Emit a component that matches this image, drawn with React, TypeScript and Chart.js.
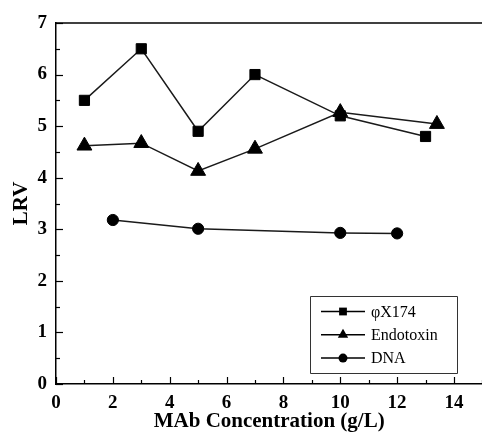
import React, { useEffect, useRef } from 'react';
import { Chart, registerables } from 'chart.js';

Chart.register(...registerables);

// ---- data ----
const seriesLabels = ['φX174', 'Endotoxin', 'DNA'];
const phiX174X = [1, 3, 5, 7, 10, 13];
const phiX174Y = [5.5, 6.5, 4.9, 6.0, 5.2, 4.8];
const endotoxinX = [1, 3, 5, 7, 10, 13.4];
const endotoxinY = [4.62, 4.67, 4.13, 4.56, 5.27, 5.04];
const dnaX = [2, 5, 10, 12];
const dnaY = [3.18, 3.01, 2.93, 2.92];
const xTicks = [0, 2, 4, 6, 8, 10, 12, 14];
const yTicks = [0, 1, 2, 3, 4, 5, 6, 7];
const xTitle = 'MAb Concentration (g/L)';
const yTitle = 'LRV';

const SERIF = "'Liberation Serif', 'Times New Roman', Times, serif";

const toPts = (xs: number[], ys: number[]) => xs.map((x, i) => ({ x, y: ys[i] }));

function drawMarker(ctx: CanvasRenderingContext2D, style: string, cx: number, cy: number, r: number) {
  ctx.beginPath();
  if (style === 'rect') {
    const s = r * Math.SQRT1_2;
    ctx.rect(cx - s, cy - s, 2 * s, 2 * s);
  } else if (style === 'triangle') {
    ctx.moveTo(cx, cy - r);
    ctx.lineTo(cx + r * Math.sin(Math.PI * 2 / 3), cy + r / 2);
    ctx.lineTo(cx - r * Math.sin(Math.PI * 2 / 3), cy + r / 2);
    ctx.closePath();
  } else {
    ctx.arc(cx, cy, r, 0, Math.PI * 2);
  }
  ctx.fill();
}

const framePlugin = {
  id: 'frameTicksLegend',
  afterDraw(chart: any) {
    const { ctx, chartArea, scales } = chart;
    const xs = scales.x;
    const ys = scales.y;
    ctx.save();
    ctx.strokeStyle = '#000';
    ctx.lineWidth = 1.3;
    // top frame line
    ctx.beginPath();
    ctx.moveTo(chartArea.left, chartArea.top);
    ctx.lineTo(chartArea.right, chartArea.top);
    ctx.stroke();
    // inside tick marks
    ctx.lineWidth = 1.2;
    for (let v = 0; v <= 7.001; v += 0.5) {
      const py = Math.round(ys.getPixelForValue(v)) + 0.5;
      const len = Math.abs(v - Math.round(v)) < 1e-6 ? 7 : 4;
      ctx.beginPath();
      ctx.moveTo(chartArea.left, py);
      ctx.lineTo(chartArea.left + len, py);
      ctx.stroke();
    }
    for (let v = 0; v <= 15; v += 1) {
      const px = Math.round(xs.getPixelForValue(v)) + 0.5;
      const len = v % 2 === 0 ? 7 : 4;
      ctx.beginPath();
      ctx.moveTo(px, chartArea.bottom);
      ctx.lineTo(px, chartArea.bottom - len);
      ctx.stroke();
    }
    // legend
    const box = { left: 310.5, top: 296.5, right: 457.5, bottom: 373.5 };
    ctx.lineWidth = 1;
    ctx.strokeStyle = '#333';
    ctx.fillStyle = '#fff';
    ctx.beginPath();
    ctx.rect(box.left, box.top, box.right - box.left, box.bottom - box.top);
    ctx.fill();
    ctx.stroke();
    const radii = [5.5, 6, 4.5];
    chart.data.datasets.forEach((ds: any, i: number) => {
      const cy = 311.5 + i * 23.3;
      ctx.strokeStyle = '#000';
      ctx.lineWidth = 1.5;
      ctx.beginPath();
      ctx.moveTo(321, cy);
      ctx.lineTo(365, cy);
      ctx.stroke();
      ctx.fillStyle = '#000';
      drawMarker(ctx, ds.pointStyle, 343, cy, radii[i]);
      ctx.font = `16px ${SERIF}`;
      ctx.textBaseline = 'middle';
      ctx.textAlign = 'left';
      ctx.fillText(ds.label, 371, cy + 1);
    });
    ctx.restore();
  },
};

export default function App() {
  const ref = useRef<HTMLCanvasElement | null>(null);

  useEffect(() => {
    if (!ref.current) return;
    const common = {
      borderColor: '#1a1a1a',
      backgroundColor: '#000',
      pointBackgroundColor: '#000',
      pointBorderColor: '#000',
      pointBorderWidth: 1,
      borderWidth: 1.5,
      showLine: true,
      tension: 0,
      clip: false as any,
    };
    const chart = new Chart(ref.current, {
      type: 'scatter',
      data: {
        datasets: [
          { ...common, label: seriesLabels[0], data: toPts(phiX174X, phiX174Y), pointStyle: 'rect', pointRadius: 7.2 },
          { ...common, label: seriesLabels[1], data: toPts(endotoxinX, endotoxinY), pointStyle: 'triangle', pointRadius: 8.6 },
          { ...common, label: seriesLabels[2], data: toPts(dnaX, dnaY), pointStyle: 'circle', pointRadius: 5.6 },
        ],
      },
      options: {
        animation: false,
        responsive: false,
        devicePixelRatio: 1,
        layout: { padding: { left: 9, top: 23, right: 6, bottom: 3 } },
        plugins: {
          legend: { display: false },
          tooltip: { enabled: false },
        },
        scales: {
          x: {
            type: 'linear',
            min: 0,
            max: 15,
            afterBuildTicks: (s: any) => { s.ticks = xTicks.map((v) => ({ value: v })); },
            afterFit: (s: any) => { s.height = 50; },
            grid: { display: false, drawTicks: false },
            border: { display: true, color: '#000', width: 1.5 },
            ticks: { color: '#000', padding: 8, font: { family: SERIF, size: 19, weight: 'bold' } },
            title: { display: true, text: xTitle, color: '#000', font: { family: SERIF, size: 21, weight: 'bold' }, padding: 0 },
          },
          y: {
            type: 'linear',
            min: 0,
            max: 7,
            afterBuildTicks: (s: any) => { s.ticks = yTicks.map((v) => ({ value: v })); },
            afterFit: (s: any) => { s.width = 47; },
            grid: { display: false, drawTicks: false },
            border: { display: true, color: '#000', width: 1.5 },
            ticks: { color: '#000', padding: 9, font: { family: SERIF, size: 19, weight: 'bold' } },
            title: { display: true, text: yTitle, color: '#000', font: { family: SERIF, size: 21, weight: 'bold' }, padding: 0 },
          },
        },
      },
      plugins: [framePlugin],
    } as any);
    return () => chart.destroy();
  }, []);

  return (
    <div style={{ position: 'fixed', left: 0, top: 0, width: 482, height: 437, overflow: 'hidden', background: '#fff' }}>
      <canvas ref={ref} width={492} height={437} style={{ width: 492, height: 437, display: 'block' }} />
    </div>
  );
}
